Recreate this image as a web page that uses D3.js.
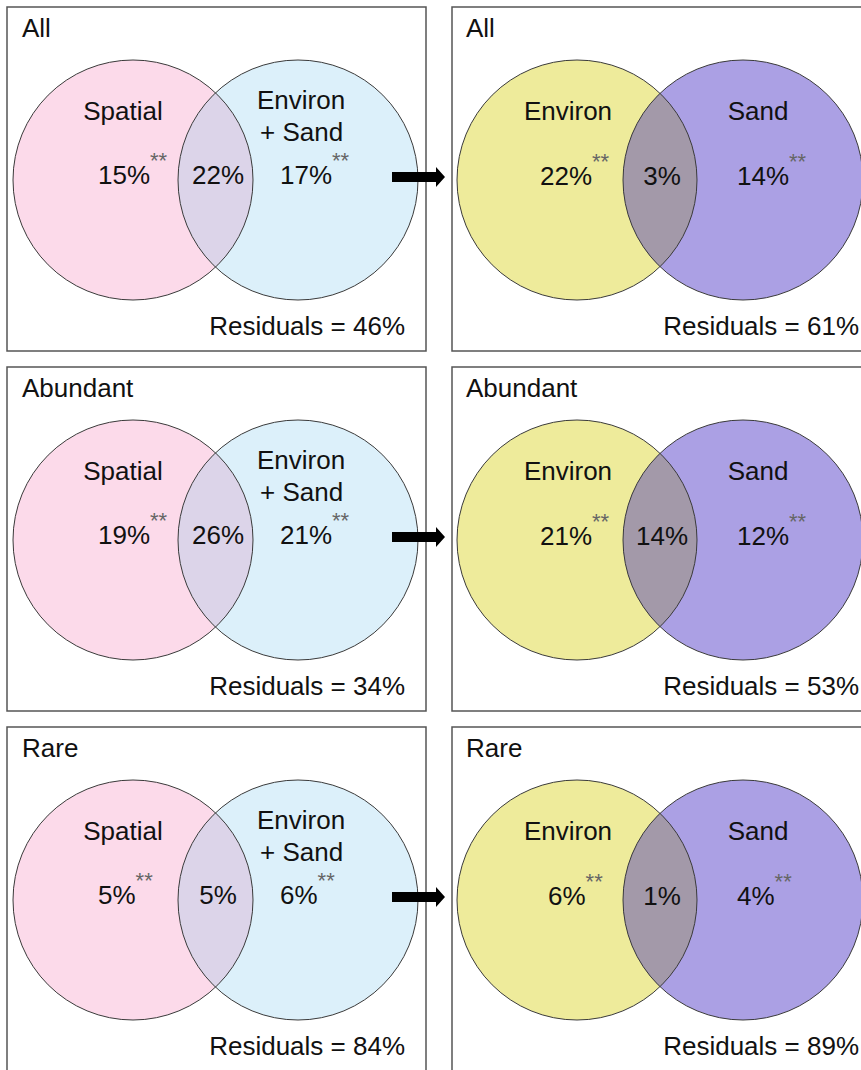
<!DOCTYPE html>
<html>
<head>
<meta charset="utf-8">
<script src="https://cdn.jsdelivr.net/npm/d3@7/dist/d3.min.js"></script>
<style>
  html, body { margin: 0; padding: 0; background: #fff; }
  svg { display: block; }
  text { font-family: "Liberation Sans", Arial, sans-serif; fill: #111; }
</style>
</head>
<body>
<svg id="chart" width="861" height="1070"></svg>
<script>
// ---- Data ----
const groups = ["All", "Abundant", "Rare"];
// Left panels: Spatial vs Environ + Sand
const leftSetNames = ["Spatial", "Environ\n+ Sand"];
const spatialOnly = [15, 19, 5];
const spatialEnvShared = [22, 26, 5];
const envSandOnly = [17, 21, 6];
const residualsLeft = [46, 34, 84];
// Right panels: Environ vs Sand
const rightSetNames = ["Environ", "Sand"];
const environOnly = [22, 21, 6];
const environSandShared = [3, 14, 1];
const sandOnly = [14, 12, 4];
const residualsRight = [61, 53, 89];
const significance = "**";

// ---- Layout ----
const svg = d3.select("#chart");
const panelH = 344;
const rowTop = d3.scalePoint().domain(groups).range([7, 727]);
const panelLeft = d3.scalePoint().domain(["left", "right"]).range([7, 452]);
const panelW = { left: 419, right: 440 };
const R = 120;

const colors = {
  left:  { a: "#fcdaea", b: "#dcf0fa", ab: "#dcd4e9" },
  right: { a: "#eeeb9b", b: "#aba0e4", ab: "#a399a9" }
};

const defs = svg.append("defs");

function starred(g, x, y, anchor, value, sig) {
  const t = g.append("text")
    .attr("x", x).attr("y", y)
    .attr("text-anchor", anchor)
    .attr("font-size", 26);
  t.append("tspan").text(value + "%");
  if (sig) {
    t.append("tspan")
      .attr("font-size", 22)
      .attr("dy", -16)
      .attr("dx", 0)
      .style("fill", "#666")
      .text(sig);
  }
}

groups.forEach((grp, i) => {
  const top = rowTop(grp);
  const cy = top + 173;

  ["left", "right"].forEach(side => {
    const x0 = panelLeft(side);
    const g = svg.append("g");

    g.append("rect")
      .attr("x", x0).attr("y", top)
      .attr("width", panelW[side]).attr("height", panelH)
      .attr("fill", "none")
      .attr("stroke", "#555")
      .attr("stroke-width", 1.5);

    g.append("text")
      .attr("x", x0 + (side === "left" ? 15 : 14))
      .attr("y", top + 30)
      .attr("font-size", 26)
      .text(grp);

    const cxA = x0 + (side === "left" ? 126 : 125);
    const cxB = x0 + 291;
    const col = colors[side];

    const clipId = `clip-${side}-${i}`;
    defs.append("clipPath").attr("id", clipId)
      .append("circle").attr("cx", cxA).attr("cy", cy).attr("r", R);

    g.append("circle").attr("cx", cxA).attr("cy", cy).attr("r", R).attr("fill", col.a);
    g.append("circle").attr("cx", cxB).attr("cy", cy).attr("r", R).attr("fill", col.b);
    g.append("circle").attr("cx", cxB).attr("cy", cy).attr("r", R)
      .attr("fill", col.ab).attr("clip-path", `url(#${clipId})`);
    [cxA, cxB].forEach(cx => {
      g.append("circle").attr("cx", cx).attr("cy", cy).attr("r", R)
        .attr("fill", "none").attr("stroke", "#3a3a3a").attr("stroke-width", 1);
    });

    if (side === "left") {
      g.append("text").attr("x", x0 + 116).attr("y", cy - 60)
        .attr("text-anchor", "middle").attr("font-size", 26).text(leftSetNames[0]);
      const lines = leftSetNames[1].split("\n");
      g.append("text").attr("x", x0 + 250).attr("y", cy - 71)
        .attr("font-size", 26).text(lines[0]);
      g.append("text").attr("x", x0 + 253).attr("y", cy - 39)
        .attr("font-size", 26).text(lines[1]);

      starred(g, x0 + 91, cy + 4, "start", spatialOnly[i], significance);
      starred(g, x0 + 211, cy + 4, "middle", spatialEnvShared[i], null);
      starred(g, x0 + 273, cy + 4, "start", envSandOnly[i], significance);

      g.append("text").attr("x", x0 + 398).attr("y", top + 328)
        .attr("text-anchor", "end").attr("font-size", 26)
        .text(`Residuals = ${residualsLeft[i]}%`);
    } else {
      g.append("text").attr("x", x0 + 116).attr("y", cy - 60)
        .attr("text-anchor", "middle").attr("font-size", 26).text(rightSetNames[0]);
      g.append("text").attr("x", x0 + 306).attr("y", cy - 60)
        .attr("text-anchor", "middle").attr("font-size", 26).text(rightSetNames[1]);

      const mid = x0 + 114;
      starred(g, mid - (environOnly[i] >= 10 ? 26 : 18), cy + 5, "start", environOnly[i], significance);
      starred(g, x0 + 210, cy + 5, "middle", environSandShared[i], null);
      starred(g, x0 + 285, cy + 5, "start", sandOnly[i], significance);

      g.append("text").attr("x", x0 + 407).attr("y", top + 328)
        .attr("text-anchor", "end").attr("font-size", 26)
        .text(`Residuals = ${residualsRight[i]}%`);
    }
  });

  // arrow between panels
  const ay = cy - 3;
  const ax0 = 392, ax1 = 436, tip = 445;
  svg.append("path")
    .attr("d", `M${ax0},${ay - 5}H${ax1}V${ay - 10}L${tip},${ay}L${ax1},${ay + 10}V${ay + 5}H${ax0}Z`)
    .attr("fill", "#000");
});
</script>
</body>
</html>
